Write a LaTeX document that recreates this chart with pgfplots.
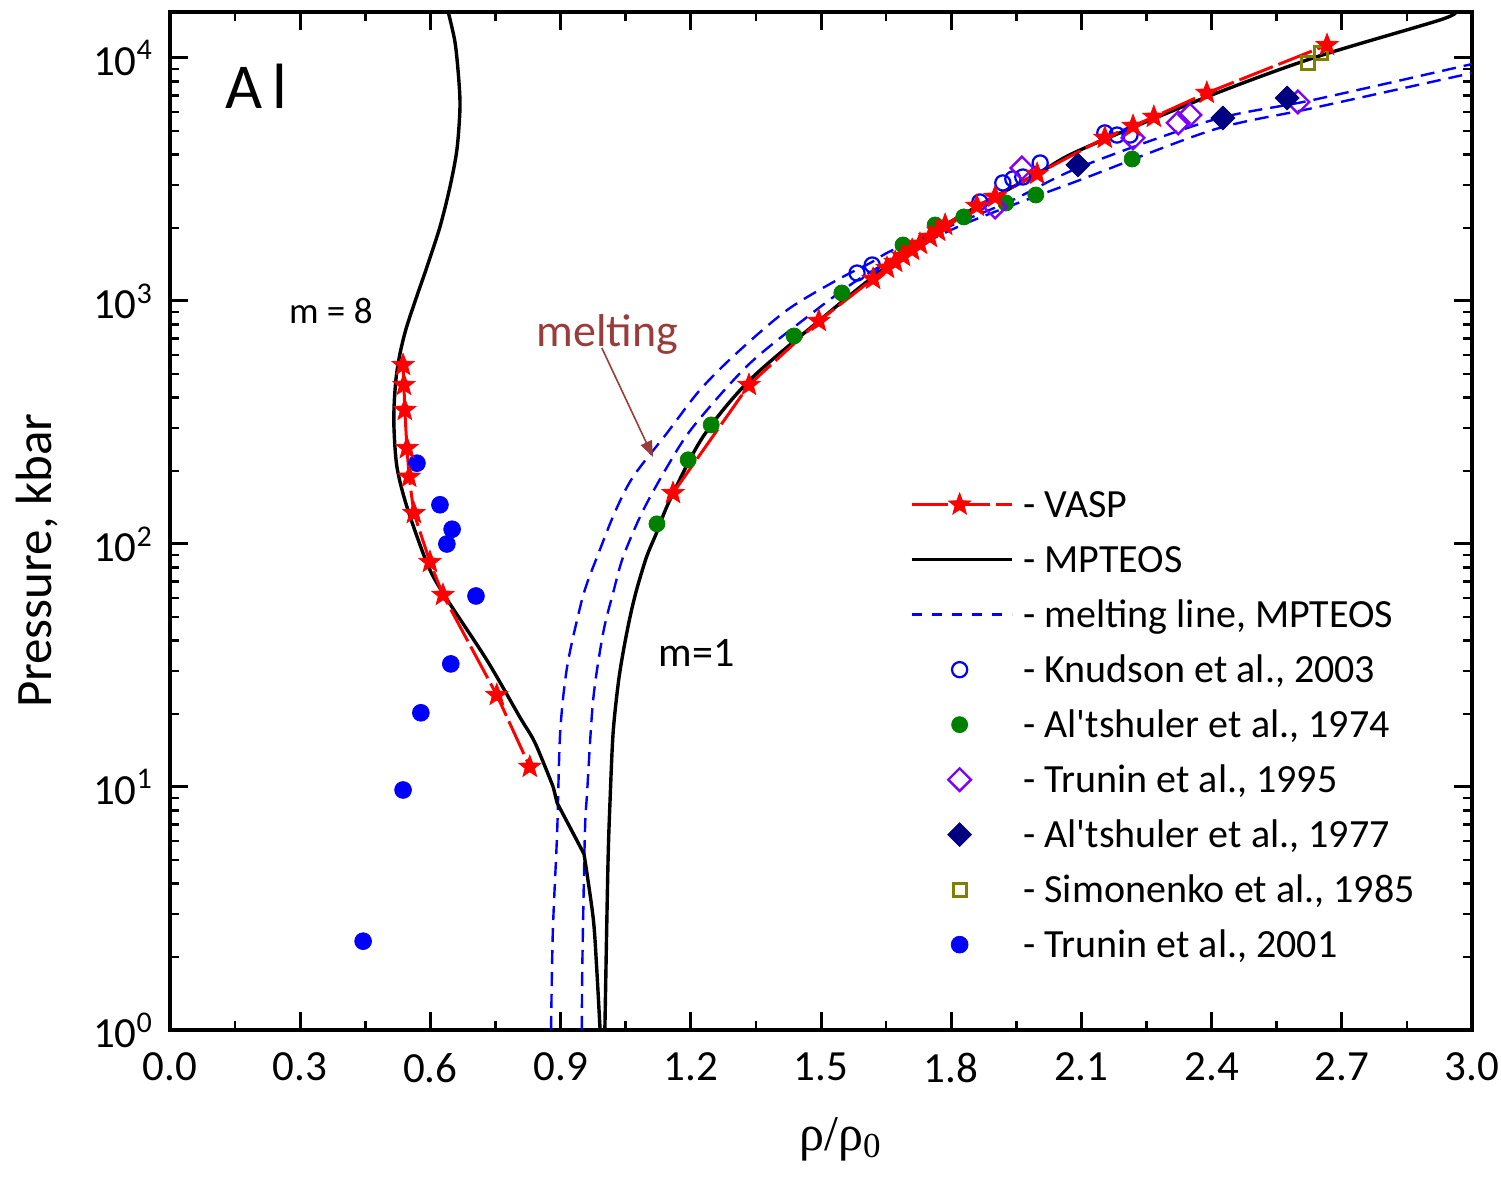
\documentclass[border=0pt]{standalone}
\usepackage{fontspec}
\setmainfont{Carlito}
\newfontfamily\lserif{Liberation Serif}
\usepackage{pgfplots}
\pgfplotsset{compat=1.18}
\usetikzlibrary{arrows.meta}
\definecolor{mgreen}{RGB}{0,128,0}
\definecolor{mviolet}{RGB}{128,0,255}
\definecolor{mnavy}{RGB}{0,0,128}
\definecolor{molive}{RGB}{128,128,0}
\definecolor{mbrown}{RGB}{155,60,60}
\pgfdeclareplotmark{fstar}{%
  \pgfpathmoveto{\pgfqpointpolar{90}{\pgfplotmarksize}}%
  \pgfpathlineto{\pgfqpointpolar{126}{0.42\pgfplotmarksize}}%
  \pgfpathlineto{\pgfqpointpolar{162}{\pgfplotmarksize}}%
  \pgfpathlineto{\pgfqpointpolar{198}{0.42\pgfplotmarksize}}%
  \pgfpathlineto{\pgfqpointpolar{234}{\pgfplotmarksize}}%
  \pgfpathlineto{\pgfqpointpolar{270}{0.42\pgfplotmarksize}}%
  \pgfpathlineto{\pgfqpointpolar{306}{\pgfplotmarksize}}%
  \pgfpathlineto{\pgfqpointpolar{342}{0.42\pgfplotmarksize}}%
  \pgfpathlineto{\pgfqpointpolar{18}{\pgfplotmarksize}}%
  \pgfpathlineto{\pgfqpointpolar{54}{0.42\pgfplotmarksize}}%
  \pgfpathclose
  \pgfusepathqfillstroke
}
\tikzset{
  vasp/.style={red, line width=1.5pt, dash pattern=on 18pt off 3pt, mark=fstar, mark size=5.8pt, mark options={solid, fill=red, draw=red, line width=0.4pt}},
  mpteos/.style={black, line width=1.7pt},
  melt/.style={blue, line width=1.2pt, dash pattern=on 7pt off 4pt},
}
\begin{document}
\begin{tikzpicture}
\useasboundingbox (0,0) rectangle (750.5pt,588.5pt);
\begin{axis}[
  at={(85pt,73.5pt)}, anchor=south west,
  scale only axis, width=651pt, height=509pt,
  xmin=0, xmax=3, ymode=log, ymin=1, ymax=15460,
  xtick={0,0.3,0.6,0.9,1.2,1.5,1.8,2.1,2.4,2.7,3.0},
  xticklabels={0.0,0.3,0.6,0.9,1.2,1.5,1.8,2.1,2.4,2.7,3.0},
  minor xtick={0.15,0.45,0.75,1.05,1.35,1.65,1.95,2.25,2.55,2.85},
  ytick={1,10,100,1000,10000},
  yticklabels={10\textsuperscript{0},10\textsuperscript{1},10\textsuperscript{2},10\textsuperscript{3},10\textsuperscript{4}},
  minor ytick={2,3,4,5,6,7,8,9,20,30,40,50,60,70,80,90,200,300,400,500,600,700,800,900,2000,3000,4000,5000,6000,7000,8000,9000},
  major tick length=9pt, minor tick length=4.5pt,
  major tick style={line width=1.5pt, black},
  minor tick style={line width=1.3pt, black},
  axis line style={line width=2.2pt},
  tick label style={font=\fontsize{21.5}{24}\selectfont},
  xticklabel style={yshift=-8pt},
  yticklabel style={xshift=-5pt},
  xlabel={\lserif ρ/ρ\textsubscript{0}},
  ylabel={Pressure, kbar},
  xlabel style={at={(axis description cs:0.515,-0.118)}, anchor=base, font=\fontsize{25}{28}\selectfont},
  ylabel style={at={(axis description cs:-0.102,0.461)}, anchor=center, font=\fontsize{25.5}{28}\selectfont},
  legend style={at={(0.568,0.530)}, anchor=north west, draw=none, fill=none, inner sep=0pt, row sep=13.7pt, column sep=5pt, font=\fontsize{20}{22}\selectfont, nodes={inner sep=0pt, anchor=west, text height=13.3pt, text depth=0.5pt}},
  legend cell align=left,
  legend image code/.code={\draw[mark repeat=2,mark phase=2,#1] plot coordinates {(0pt,0pt) (24pt,0pt) (50pt,0pt)};},
]
\addlegendimage{vasp}
\addlegendentry{- VASP}
\addlegendimage{mpteos}
\addlegendentry{- MPTEOS}
\addlegendimage{blue, line width=1.2pt, dash pattern=on 5pt off 5pt}
\addlegendentry{- melting line, MPTEOS}
\addlegendimage{only marks, mark=o, mark size=3.8pt, blue, line width=1.1pt}
\addlegendentry{- Knudson et al., 2003}
\addlegendimage{only marks, mark=*, mark size=4pt, mgreen}
\addlegendentry{- Al\textquotesingle tshuler et al., 1974}
\addlegendimage{only marks, mark=square, mark size=4pt, mark options={rotate=45}, mviolet, line width=1.2pt}
\addlegendentry{- Trunin et al., 1995}
\addlegendimage{only marks, mark=square*, mark size=4.2pt, mark options={rotate=45}, mnavy}
\addlegendentry{- Al\textquotesingle tshuler et al., 1977}
\addlegendimage{only marks, mark=square, mark size=3.3pt, molive, line width=1.5pt}
\addlegendentry{- Simonenko et al., 1985}
\addlegendimage{only marks, mark=*, mark size=4.2pt, blue}
\addlegendentry{- Trunin et al., 2001}

% melting lines
\addplot[melt, smooth, tension=0.5, forget plot] coordinates {(0.878,1) (0.882,2.51) (0.892,6.47) (0.899,16.7) (0.915,31.2) (0.945,55) (0.961,69) (0.984,88.4) (1.025,135) (1.067,189) (1.145,286) (1.221,430) (1.306,611) (1.422,918) (1.537,1220) (1.613,1432) (1.666,1622) (1.820,2113) (1.942,2604) (2.097,3557) (2.403,5560) (2.634,6720) (3.0,9440)};
\addplot[melt, smooth, tension=0.5, forget plot] coordinates {(0.949,1) (0.950,1.82) (0.956,6.47) (0.961,9.45) (0.975,22.8) (0.998,43) (1.021,62.9) (1.044,88.4) (1.088,135) (1.145,207) (1.205,303) (1.332,545) (1.468,859) (1.574,1186) (1.682,1545) (1.820,2036) (1.942,2484) (2.097,3148) (2.403,5058) (2.634,6225) (3.0,8670)};
% MPTEOS m=8
\addplot[mpteos, smooth, tension=0.5, forget plot] coordinates {(0.641,15460) (0.657,11530) (0.666,7890) (0.668,6110) (0.661,4180) (0.645,2944) (0.622,2017) (0.592,1380) (0.569,1050) (0.545,780) (0.531,620) (0.522,500) (0.517,391) (0.516,303) (0.523,207) (0.546,142) (0.592,83.5) (0.629,62.8) (0.730,33.3) (0.806,19.4) (0.841,15.2) (0.883,10)};
\addplot[mpteos, forget plot] coordinates {(0.883,10) (0.892,8.6) (0.954,5.3)};
\addplot[mpteos, smooth, tension=0.5, forget plot] coordinates {(0.954,5.3) (0.975,2.9) (0.983,1.82) (0.991,1)};
% MPTEOS m=1
\addplot[mpteos, smooth, tension=0.5, forget plot] coordinates {(1.002,1) (1.009,4.69) (1.014,8.84) (1.021,16.7) (1.033,26.8) (1.045,36.6) (1.060,50.1) (1.075,64.7) (1.098,88.4) (1.121,111) (1.152,152) (1.228,276) (1.336,473) (1.498,836) (1.620,1256) (1.774,1995) (2.005,3395) (2.097,4180) (2.389,6915) (2.634,10000) (2.926,14330) (2.961,15460)};
% Al'tshuler 1974
\addplot[only marks, mark=*, mark size=4pt, mgreen, forget plot] coordinates {(1.122,121) (1.194,222) (1.247,309) (1.438,718) (1.548,1079) (1.689,1700) (1.763,2055) (1.829,2218) (1.926,2530) (1.995,2730) (2.217,3840)};
% Knudson 2003
\addplot[only marks, mark=o, mark size=3.8pt, blue, line width=1.1pt, forget plot] coordinates {(1.583,1303) (1.618,1406) (1.866,2555) (1.919,3060) (1.942,3177) (1.965,3237) (2.005,3697) (2.154,4915) (2.182,4817) (2.212,4817)};
% Trunin 1995
\addplot[only marks, mark=square, mark size=4pt, mark options={rotate=45}, mviolet, line width=1.2pt, forget plot] coordinates {(1.901,2437) (1.963,3525) (2.219,4690) (2.323,5405) (2.350,5826) (2.599,6590) (3.03,12800)};
% Al'tshuler 1977
\addplot[only marks, mark=square*, mark size=4.2pt, mark options={rotate=45}, mnavy, forget plot] coordinates {(2.092,3630) (2.426,5662) (2.574,6846)};
% Simonenko 1985
\addplot[only marks, mark=square, mark size=3.3pt, molive, line width=1.5pt, forget plot] coordinates {(2.622,9540) (2.652,10490)};
% Trunin 2001
\addplot[only marks, mark=*, mark size=4.2pt, blue, forget plot] coordinates {(0.569,215) (0.622,145) (0.650,115) (0.638,100) (0.705,61.1) (0.647,32.1) (0.578,20.2) (0.537,9.72) (0.445,2.32)};
% VASP
\addplot[vasp, forget plot] coordinates {(0.537,545) (0.539,451) (0.541,356) (0.546,248) (0.551,189) (0.562,134) (0.599,84.3) (0.629,61.7) (0.753,23.9) (0.829,12.1)};
\addplot[vasp, forget plot] coordinates {(1.159,162) (1.334,451) (1.495,827) (1.620,1233) (1.652,1369) (1.671,1447) (1.689,1531) (1.710,1622) (1.728,1717) (1.751,1834) (1.770,1942) (1.786,2055) (1.859,2461) (1.901,2680) (1.998,3334) (2.154,4690) (2.219,5250) (2.267,5720) (2.389,7180) (2.666,11300)};

\node[font=\fontsize{32}{36}\selectfont] at (axis cs:0.198,7640) {A\hspace{5pt}l};
\node[font=\fontsize{18.5}{20}\selectfont] at (axis cs:0.3705,910) {m = 8};
\node[font=\fontsize{21}{24}\selectfont] at (axis cs:1.214,35.6) {m=1};
\node[font=\fontsize{23}{26}\selectfont, text=mbrown] at (axis cs:1.008,731) {melting};
\draw[mbrown, line width=0.8pt, -{Triangle[length=8pt,width=6pt]}] (axis cs:0.995,641) -- (axis cs:1.113,228);
\end{axis}
\end{tikzpicture}
\end{document}
